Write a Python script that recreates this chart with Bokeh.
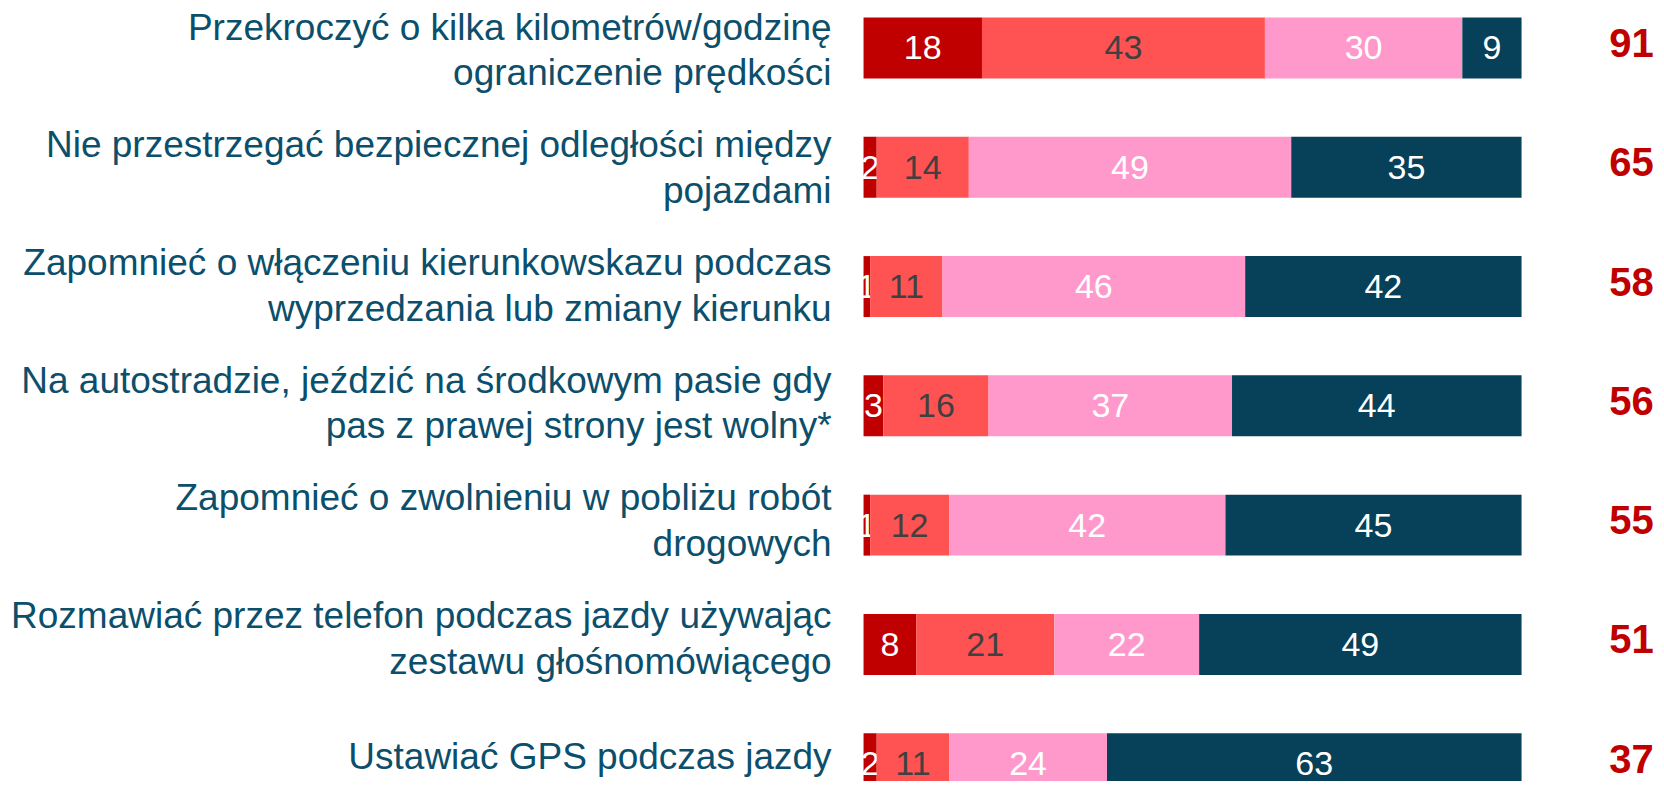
from bokeh.plotting import figure
from bokeh.models import ColumnDataSource, Range1d
from bokeh.core.properties import value
from bokeh.embed import file_html
from bokeh.resources import INLINE

categories = [
    "Przekroczyć o kilka kilometrów/godzinę\nograniczenie prędkości",
    "Nie przestrzegać bezpiecznej odległości między\npojazdami",
    "Zapomnieć o włączeniu kierunkowskazu podczas\nwyprzedzania lub zmiany kierunku",
    "Na autostradzie, jeździć na środkowym pasie gdy\npas z prawej strony jest wolny*",
    "Zapomnieć o zwolnieniu w pobliżu robót\ndrogowych",
    "Rozmawiać przez telefon podczas jazdy używając\nzestawu głośnomówiącego",
    "Ustawiać GPS podczas jazdy",
]
series_1 = [18, 2, 1, 3, 1, 8, 2]
series_2 = [43, 14, 11, 16, 12, 21, 11]
series_3 = [30, 49, 46, 37, 42, 22, 24]
series_4 = [9, 35, 42, 44, 45, 49, 63]
totals = [91, 65, 58, 56, 55, 51, 37]

colors = ["#C00000", "#FF5252", "#FF99CC", "#064059"]
label_colors = ["white", "#404040", "white", "white"]
FONT = "Liberation Sans"

W, H = 1656, 781
p = figure(width=W, height=H, output_backend="svg", toolbar_location=None,
           x_axis_type=None, y_axis_type=None, min_border=0,
           x_range=Range1d(-131.16, 120.51), y_range=Range1d(6.149, -0.398))
p.outline_line_color = None
p.grid.visible = False
p.background_fill_color = "white"
p.border_fill_color = "white"
p.extra_y_ranges = {
    "lab": Range1d(6.216, -0.420),
}

idx = list(range(len(categories)))
all_series = [series_1, series_2, series_3, series_4]
left = [0] * len(idx)
for s, col, lcol in zip(all_series, colors, label_colors):
    right = [l + v for l, v in zip(left, s)]
    mid = [(l + r) / 2 for l, r in zip(left, right)]
    src = ColumnDataSource(dict(y=idx, left=left, right=right, mid=mid,
                                txt=[str(v) for v in s]))
    p.hbar(y="y", left="left", right="right", height=0.511, source=src,
           fill_color=col, line_color=None)
    p.text(x="mid", y="y", text="txt", source=src, text_align="center",
           text_baseline="middle", text_color=lcol, text_font=value(FONT),
           text_font_size="34px")
    left = right

lab_src = ColumnDataSource(dict(y=idx, x=[-4.86] * len(idx), txt=categories))
p.text(x="x", y="y", text="txt", source=lab_src, y_range_name="lab",
       text_align="right", text_baseline="middle", text_color="#0B4F6C",
       text_font=value(FONT), text_font_size="37px", text_line_height=1.11)

tot_src = ColumnDataSource(dict(y=idx, x=[116.7] * len(idx),
                                txt=[str(t) for t in totals]))
p.text(x="x", y="y", text="txt", source=tot_src, y_offset=-5,
       text_align="center", text_baseline="middle", text_color="#C00000",
       text_font=value(FONT), text_font_size="40px", text_font_style="bold")

open("out.html", "w").write(file_html(p, INLINE))
